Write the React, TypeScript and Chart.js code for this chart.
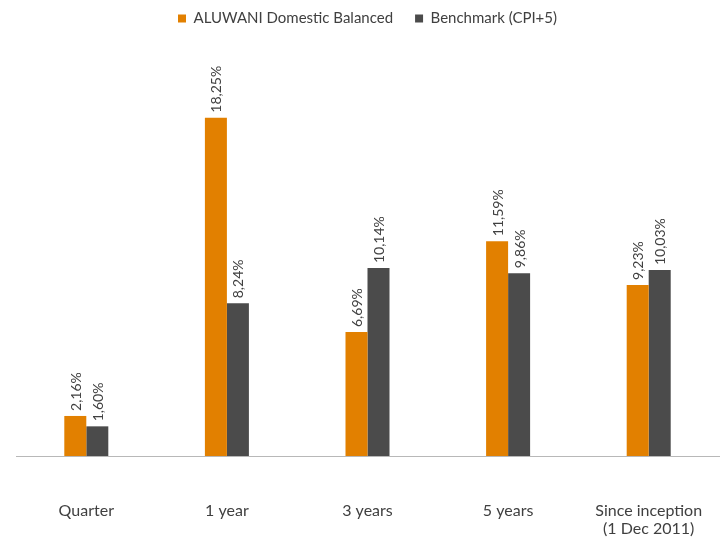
import React, { useEffect, useRef } from "react";
import { Chart, registerables } from "chart.js";

Chart.register(...registerables);

const categories: (string | string[])[] = ["Quarter", "1 year", "3 years", "5 years", ["Since inception", "(1 Dec 2011)"]];
const fundValues = [2.16, 18.25, 6.69, 11.59, 9.23];
const benchmarkValues = [1.6, 8.24, 10.14, 9.86, 10.03];
const seriesNames = ["ALUWANI Domestic Balanced", "Benchmark (CPI+5)"];

const FONT = "Lato, 'Noto Sans', sans-serif";
const TEXT = "#404040";

const valueLabels = {
  id: "valueLabels",
  afterDatasetsDraw(chart: any) {
    const ctx = chart.ctx;
    ctx.save();
    ctx.font = `14px ${FONT}`;
    ctx.fillStyle = TEXT;
    ctx.textAlign = "left";
    ctx.textBaseline = "middle";
    chart.data.datasets.forEach((ds: any, di: number) => {
      const meta = chart.getDatasetMeta(di);
      meta.data.forEach((bar: any, i: number) => {
        const v = ds.data[i] as number;
        const txt = v.toFixed(2).replace(".", ",") + "%";
        ctx.save();
        ctx.translate(bar.x + 1, bar.y - 5);
        ctx.rotate(-Math.PI / 2);
        ctx.fillText(txt, 0, 0);
        ctx.restore();
      });
    });
    ctx.restore();
  },
};

const categoryLabels = {
  id: "categoryLabels",
  afterDraw(chart: any) {
    const ctx = chart.ctx;
    const xs = chart.scales.x;
    ctx.save();
    ctx.font = `16px ${FONT}`;
    ctx.fillStyle = TEXT;
    ctx.textAlign = "center";
    ctx.textBaseline = "middle";
    const baseY = chart.chartArea.bottom + 55;
    (chart.data.labels as any[]).forEach((lab, i) => {
      const lines = Array.isArray(lab) ? lab : [lab];
      const x = xs.getPixelForValue(i);
      lines.forEach((ln: string, j: number) => ctx.fillText(ln, x, baseY + j * 18));
    });
    ctx.restore();
  },
};

export default function App() {
  const ref = useRef<HTMLCanvasElement>(null);
  useEffect(() => {
    if (!ref.current) return;
    const chart = new Chart(ref.current, {
      type: "bar",
      data: {
        labels: categories,
        datasets: [
          { label: seriesNames[0], data: fundValues, backgroundColor: "#E28000" },
          { label: seriesNames[1], data: benchmarkValues, backgroundColor: "#4B4B4B" },
        ],
      },
      options: {
        responsive: false,
        animation: false,
        layout: { padding: { left: 16, right: 4, top: -11, bottom: 74 } },
        datasets: { bar: { categoryPercentage: 0.313, barPercentage: 1.0 } } as any,
        plugins: {
          legend: {
            position: "top",
            labels: {
              boxWidth: 8,
              boxHeight: 8,
              padding: 22,
              color: TEXT,
              font: { size: 15, family: FONT },
            },
          },
          tooltip: { enabled: false },
        },
        scales: {
          x: {
            grid: { display: false },
            border: { display: true, color: "#b8b8b8", width: 1 },
            ticks: { display: false },
          },
          y: {
            display: false,
            min: 0,
            max: 22.66,
          },
        },
      },
      plugins: [valueLabels, categoryLabels],
    });
    return () => chart.destroy();
  }, []);
  return (
    <div style={{ position: "fixed", left: 0, top: 0, width: 723, height: 538, background: "#fff" }}>
      <canvas ref={ref} width={723} height={538} style={{ width: 723, height: 538 }} />
    </div>
  );
}
